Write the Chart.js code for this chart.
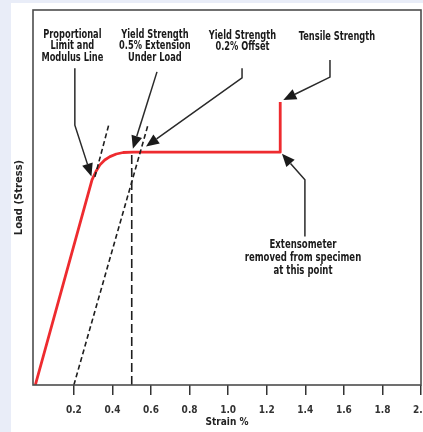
<!DOCTYPE html>
<html><head><meta charset="utf-8">
<script src="https://cdn.jsdelivr.net/npm/chart.js@4/dist/chart.umd.min.js"></script>
<style>html,body{margin:0;padding:0;background:#fff;overflow:hidden}canvas{display:block}</style>
</head><body>
<div style="width:423px;height:432px;position:relative"><canvas id="c"></canvas></div>
<script>
// ---- data ----
const xTicks = [0.2, 0.4, 0.6, 0.8, 1.0, 1.2, 1.4, 1.6, 1.8, 2.0];
const curveStrain = [0, 0.294, 0.315, 0.335, 0.36, 0.387, 0.42, 0.456, 0.508, 1.27, 1.27];
const curveLoad   = [0, 54.7, 57.0, 58.7, 60.0, 60.9, 61.6, 62.0, 62.1, 62.1, 75.5];
const modulusStrain = [0.309, 0.382];
const modulusLoad   = [55.5, 69.6];
const offsetStrain  = [0.2, 0.584];
const offsetLoad    = [0, 69.3];
const extStrain     = [0.5, 0.5];
const extLoad       = [0, 62];

const NARROW = "'Liberation Sans Narrow','DejaVu Sans Condensed','Arial Narrow',sans-serif";

// annotation layout (data coordinates)
const notes = [
  {lines:['Proportional','Limit and','Modulus Line'], x:0.192, y:[93.3,90.3,87.2], size:11.5, sx:0.8,
   path:[[0.205,84.5],[0.205,69.3],[0.291,55.6]]},
  {lines:['Yield Strength','0.5% Extension','Under Load'], x:0.62, y:[93.3,90.3,87.2], size:11.5, sx:0.8,
   path:[[0.631,83.5],[0.506,63.0]]},
  {lines:['Yield Strength','0.2% Offset'], x:1.074, y:[93.0,90.0], size:11.5, sx:0.8,
   path:[[1.072,84.5],[1.072,81.9],[0.574,63.6]]},
  {lines:['Tensile Strength'], x:1.564, y:[92.8], size:11.5, sx:0.8,
   path:[[1.528,86.7],[1.528,82.1],[1.286,76.0]]},
  {lines:['Extensometer','removed from specimen','at this point'], x:1.388, y:[37.3,33.9,30.4], size:12, sx:0.79,
   path:[[1.398,39.6],[1.398,54.7],[1.279,61.7]]}
];

function pts(xs, ys){ return xs.map((v,i)=>({x:v, y:ys[i]})); }

const bgPlugin = {
  id:'bg',
  beforeDraw(chart){
    const ctx = chart.ctx;
    ctx.save();
    ctx.fillStyle = '#e9edf8';
    ctx.fillRect(0,0,chart.width,chart.height);
    ctx.fillStyle = '#ffffff';
    ctx.fillRect(11,3,chart.width-11,chart.height-3);
    ctx.restore();
  },
  afterDraw(chart){
    const ctx = chart.ctx, a = chart.chartArea;
    ctx.save();
    ctx.strokeStyle = '#4d4d4d';
    ctx.lineWidth = 1.6;
    ctx.strokeRect(a.left, a.top, a.right - a.left, a.bottom - a.top);
    ctx.restore();
  }
};

const notePlugin = {
  id:'notes',
  afterDatasetsDraw(chart){
    const ctx = chart.ctx, xs = chart.scales.x, ys = chart.scales.y;
    ctx.save();
    notes.forEach(n=>{
      ctx.fillStyle = '#1a1a1a';
      ctx.font = 'bold ' + n.size + 'px ' + NARROW;
      ctx.textAlign = 'center';
      ctx.textBaseline = 'middle';
      n.lines.forEach((t,i)=>{
        const px = xs.getPixelForValue(n.x), py = ys.getPixelForValue(n.y[i]);
        ctx.save();
        ctx.translate(px, py);
        ctx.scale(n.sx, 1);
        ctx.fillText(t, 0, 0);
        ctx.restore();
      });
      const p = n.path.map(q=>[xs.getPixelForValue(q[0]), ys.getPixelForValue(q[1])]);
      const tip = p[p.length-1], prev = p[p.length-2];
      const ang = Math.atan2(tip[1]-prev[1], tip[0]-prev[0]);
      const L = 13, W = 5.5;
      const bx = tip[0] - L*Math.cos(ang), by = tip[1] - L*Math.sin(ang);
      ctx.strokeStyle = '#2a2a2a';
      ctx.lineWidth = 1.5;
      ctx.beginPath();
      ctx.moveTo(p[0][0], p[0][1]);
      for (let i=1;i<p.length-1;i++) ctx.lineTo(p[i][0], p[i][1]);
      ctx.lineTo(bx, by);
      ctx.stroke();
      ctx.fillStyle = '#1a1a1a';
      ctx.beginPath();
      ctx.moveTo(tip[0], tip[1]);
      ctx.lineTo(bx + W*Math.sin(ang), by - W*Math.cos(ang));
      ctx.lineTo(bx - W*Math.sin(ang), by + W*Math.cos(ang));
      ctx.closePath();
      ctx.fill();
    });
    ctx.restore();
  }
};

new Chart(document.getElementById('c'), {
  type:'line',
  data:{datasets:[
    {data:pts(modulusStrain, modulusLoad), borderColor:'#1e1e1e', borderWidth:1.6, borderDash:[5,3], pointRadius:0, tension:0},
    {data:pts(offsetStrain, offsetLoad), borderColor:'#1e1e1e', borderWidth:1.6, borderDash:[5,3], pointRadius:0, tension:0},
    {data:pts(extStrain, extLoad), borderColor:'#1e1e1e', borderWidth:1.6, borderDash:[9,4], pointRadius:0, tension:0},
    {data:pts(curveStrain, curveLoad), borderColor:'#ee2b2f', borderWidth:2.8, pointRadius:0, tension:0, borderJoinStyle:'round'}
  ]},
  options:{
    responsive:true, maintainAspectRatio:false, animation:false,
    layout:{padding:{top:10, right:2, left:0, bottom:0}},
    plugins:{legend:{display:false}, tooltip:{enabled:false}},
    scales:{
      x:{type:'linear', min:-0.012, max:2.0,
        afterBuildTicks(s){ s.ticks = xTicks.map(v=>({value:v})); },
        afterFit(s){ s.height = 47; s.paddingLeft = 0; s.paddingRight = 0; },
        grid:{display:true, drawOnChartArea:false, drawTicks:true, tickLength:10, color:'#333', lineWidth:1.5},
        border:{display:false},
        ticks:{padding:9, color:'#333', maxRotation:0, autoSkip:false,
          font:{family:NARROW, size:10, weight:'bold'},
          callback:v=>v.toFixed(1)},
        title:{display:true, text:'Strain %', color:'#222', padding:{top:0,bottom:4},
          font:{family:NARROW, size:10, weight:'bold'}}
      },
      y:{type:'linear', min:0, max:100,
        afterFit(s){ s.width = 33; s.paddingTop = 0; s.paddingBottom = 0; },
        grid:{display:false}, border:{display:false},
        ticks:{display:false},
        title:{display:true, text:'Load (Stress)', color:'#222', padding:{top:13,bottom:0},
          font:{family:"'DejaVu Sans',sans-serif", size:10, weight:'bold'}}
      }
    }
  },
  plugins:[bgPlugin, notePlugin]
});
</script>
</body></html>
